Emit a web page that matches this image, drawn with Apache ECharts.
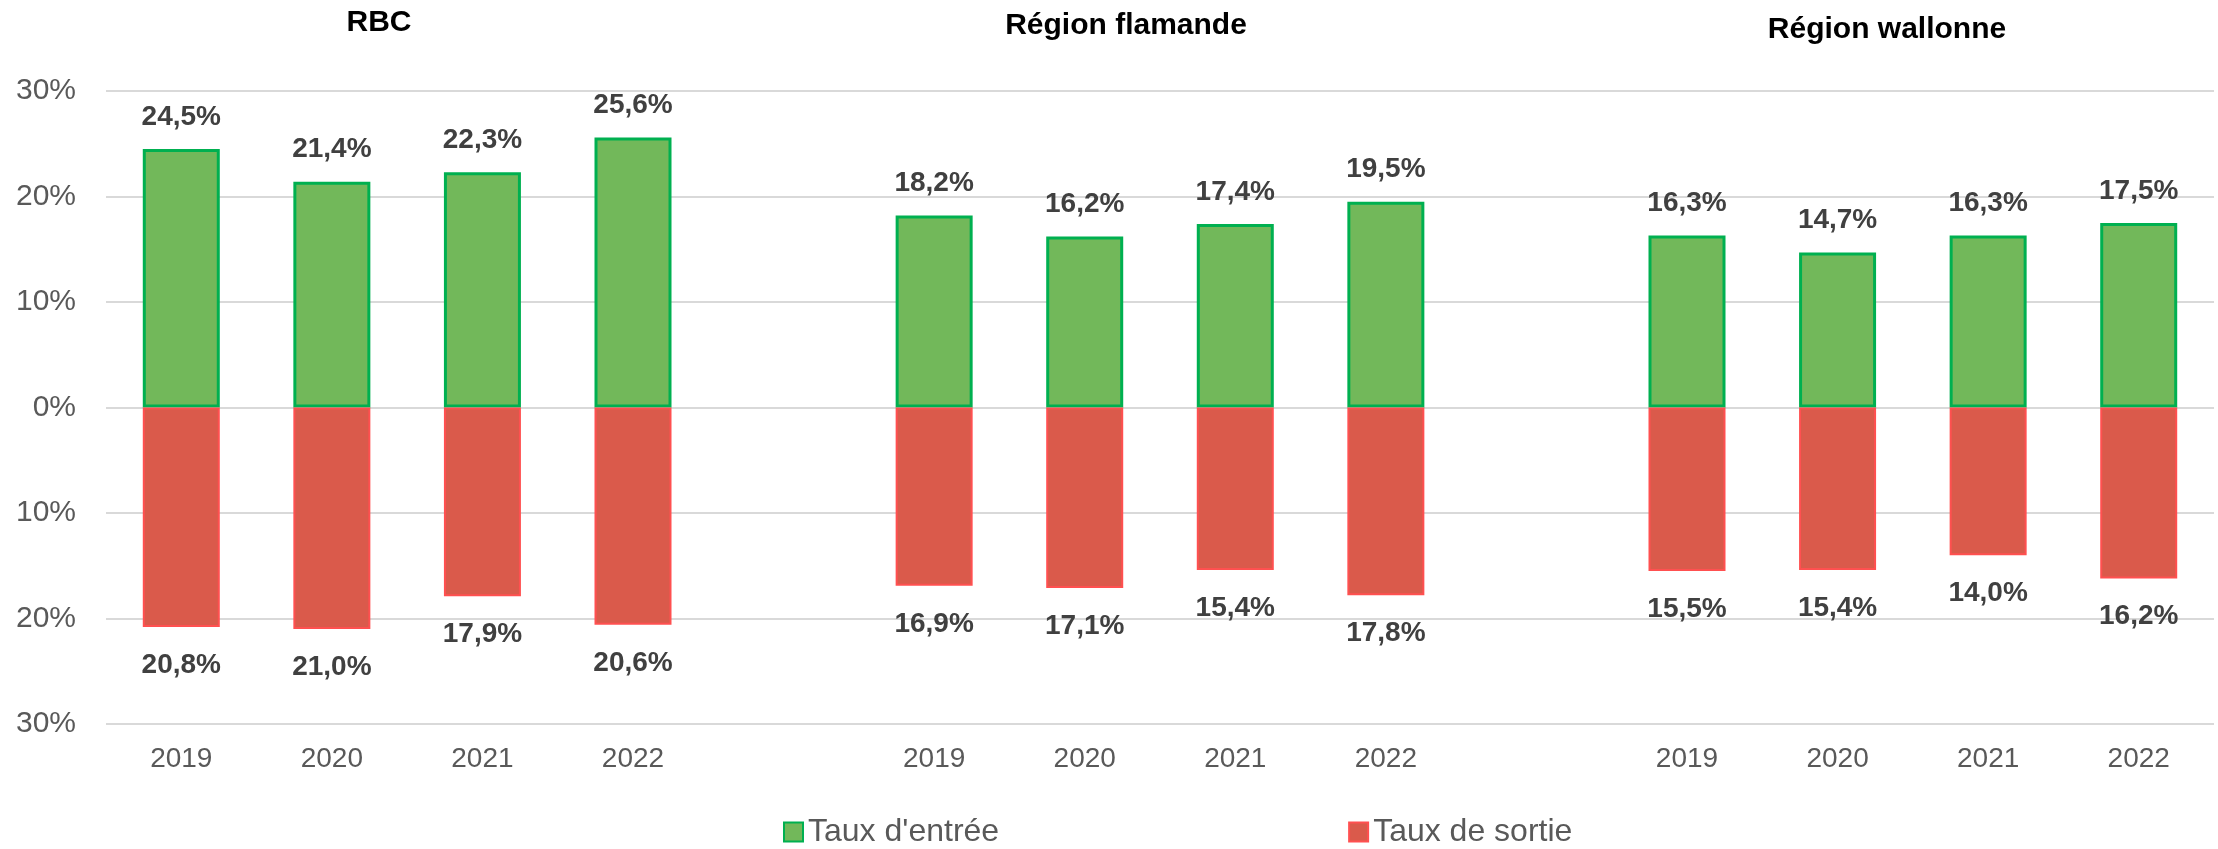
<!DOCTYPE html>
<html>
<head>
<meta charset="utf-8">
<script src="https://cdn.jsdelivr.net/npm/echarts@6/dist/echarts.min.js"></script>
<style>
  html, body { margin: 0; padding: 0; background: #fff; }
  #chart { width: 2218px; height: 849px; }
</style>
</head>
<body>
<div id="chart"></div>
<script>
// données (en %)
var years = ['2019', '2020', '2021', '2022'];
var regions = ['RBC', 'Région flamande', 'Région wallonne'];
var entree = [
  [24.5, 21.4, 22.3, 25.6],
  [18.2, 16.2, 17.4, 19.5],
  [16.3, 14.7, 16.3, 17.5]
];
var sortie = [
  [20.8, 21.0, 17.9, 20.6],
  [16.9, 17.1, 15.4, 17.8],
  [15.5, 15.4, 14.0, 16.2]
];
var yTicks = [-30, -20, -10, 0, 10, 20, 30];

// construire les catégories avec une colonne vide entre les régions
var categories = [];
var entreeData = [];
var sortieData = [];
regions.forEach(function (r, i) {
  if (i > 0) {
    categories.push('');
    entreeData.push('-');
    sortieData.push('-');
  }
  years.forEach(function (y, j) {
    categories.push(y);
    entreeData.push(entree[i][j]);
    sortieData.push(-sortie[i][j]);
  });
});

var FONT = '"Liberation Sans", Arial, sans-serif';

function pct(v) {
  return Math.abs(v).toFixed(1).replace('.', ',') + '%';
}

var myChart = echarts.init(document.getElementById('chart'));

var titleX = [379, 1126, 1887];
var titleY = [23, 26, 30];

var option = {
  backgroundColor: '#fff',
  animation: false,
  textStyle: { fontFamily: FONT },
  graphic: regions.map(function (r, i) {
    return {
      type: 'text',
      x: titleX[i],
      y: titleY[i],
      style: {
        text: r,
        align: 'center',
        verticalAlign: 'middle',
        fontFamily: FONT,
        fontSize: 30,
        fontWeight: 'bold',
        fill: '#000'
      }
    };
  }),
  legend: {
    left: 783,
    top: 816,
    padding: 0,
    icon: 'rect',
    itemWidth: 19,
    itemHeight: 19,
    itemGap: 349,
    textStyle: { fontFamily: FONT, fontSize: 32, color: '#595959' },
    data: ["Taux d'entrée", 'Taux de sortie']
  },
  grid: {
    left: 106,
    right: 4,
    top: 91,
    bottom: 125,
    containLabel: false
  },
  xAxis: {
    type: 'category',
    data: categories,
    axisLine: { show: false, onZero: false },
    axisTick: { show: false },
    axisLabel: {
      margin: 21,
      fontFamily: FONT,
      fontSize: 28,
      color: '#595959',
      interval: 0
    },
    splitLine: { show: false }
  },
  yAxis: {
    type: 'value',
    min: yTicks[0],
    max: yTicks[yTicks.length - 1],
    interval: 10,
    axisLine: { show: false },
    axisTick: { show: false },
    axisLabel: {
      margin: 30,
      fontFamily: FONT,
      fontSize: 30,
      color: '#595959',
      formatter: function (v) { return Math.abs(v) + '%'; }
    },
    splitLine: { lineStyle: { color: '#D9D9D9', width: 2 } }
  },
  series: [
    {
      name: "Taux d'entrée",
      type: 'bar',
      stack: 'taux',
      barWidth: 77,
      data: entreeData,
      itemStyle: {
        color: '#72B85A',
        borderColor: '#00B050',
        borderWidth: 3
      },
      label: {
        show: true,
        position: 'outside',
        distance: 18,
        fontFamily: FONT,
        fontSize: 28,
        fontWeight: 'bold',
        color: '#404040',
        formatter: function (p) { return pct(p.value); }
      }
    },
    {
      name: 'Taux de sortie',
      type: 'bar',
      stack: 'taux',
      barWidth: 77,
      data: sortieData,
      itemStyle: {
        color: '#DA5A4B',
        borderColor: '#FF5050',
        borderWidth: 2
      },
      label: {
        show: true,
        position: 'outside',
        distance: 24,
        fontFamily: FONT,
        fontSize: 28,
        fontWeight: 'bold',
        color: '#404040',
        formatter: function (p) { return pct(p.value); }
      }
    }
  ]
};

myChart.setOption(option);
window.addEventListener('resize', function () {
  myChart.resize();
});
</script>
</body>
</html>
